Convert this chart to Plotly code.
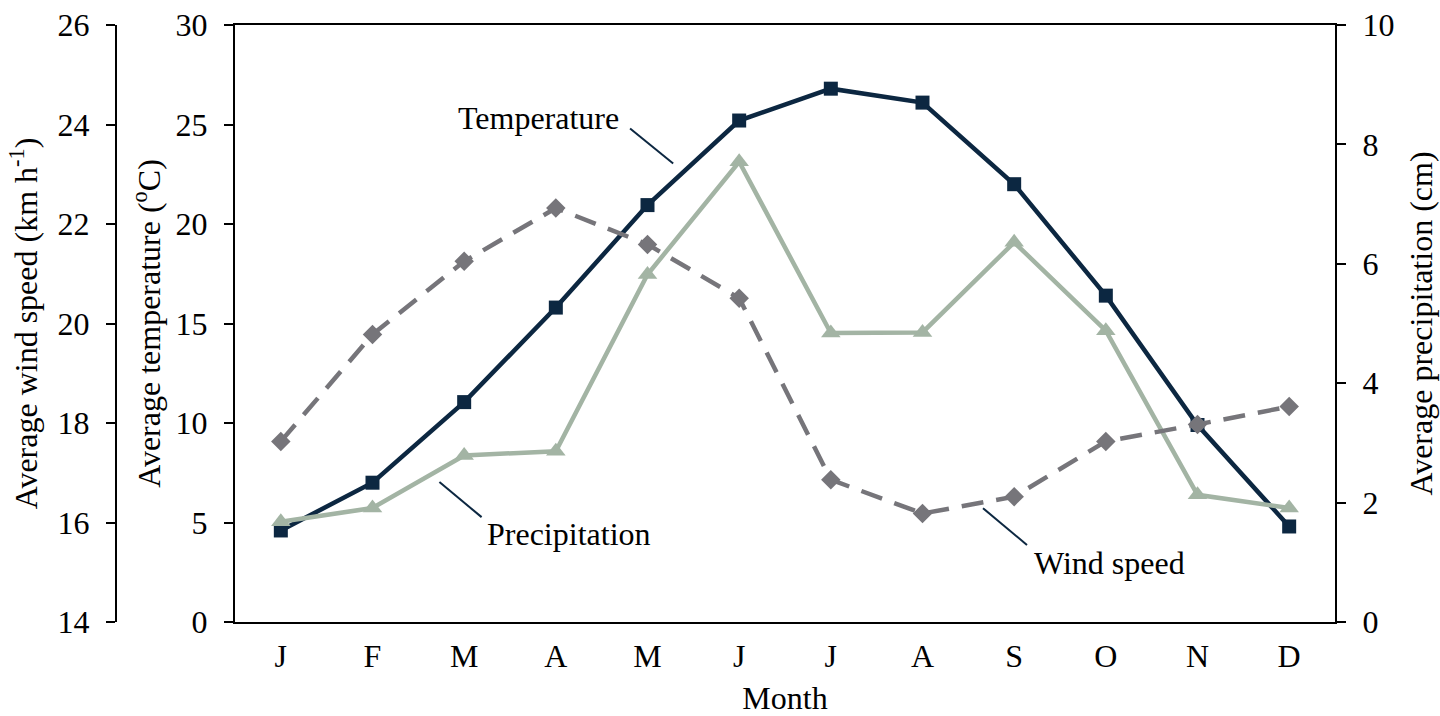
import plotly.graph_objects as go

months = ["J", "F", "M", "A", "M", "J", "J", "A", "S", "O", "N", "D"]
month_idx = list(range(12))
temperature = [4.6, 7.0, 11.05, 15.8, 20.95, 25.2, 26.8, 26.1, 22.0, 16.4, 9.9, 4.8]
precipitation = [1.68, 1.91, 2.79, 2.86, 5.82, 7.71, 4.84, 4.85, 6.36, 4.88, 2.13, 1.91]
wind_speed = [17.63, 19.78, 21.25, 22.32, 21.59, 20.51, 16.86, 16.18, 16.52, 17.63, 17.97, 18.33]

temp_ticks = [0, 5, 10, 15, 20, 25, 30]
precip_ticks = [0, 2, 4, 6, 8, 10]
wind_ticks = [14, 16, 18, 20, 22, 24, 26]

C_TEMP = "#0c2741"
C_PREC = "#a3b4a4"
C_WIND = "#76757a"
FONT = "Times New Roman, Liberation Serif, serif"
FS = 32

fig = go.Figure()

fig.add_trace(go.Scatter(
    x=month_idx, y=wind_speed, yaxis="y3", mode="lines+markers",
    line=dict(color=C_WIND, width=4.5, dash="22px,13px"),
    marker=dict(symbol="diamond", size=15, color=C_WIND),
    showlegend=False, cliponaxis=False))
fig.add_trace(go.Scatter(
    x=month_idx, y=precipitation, yaxis="y2", mode="lines+markers",
    line=dict(color=C_PREC, width=4.5),
    marker=dict(symbol="triangle-up", size=17, color=C_PREC),
    showlegend=False, cliponaxis=False))
fig.add_trace(go.Scatter(
    x=month_idx, y=temperature, yaxis="y", mode="lines+markers",
    line=dict(color=C_TEMP, width=4.5),
    marker=dict(symbol="square", size=14, color=C_TEMP),
    showlegend=False, cliponaxis=False))

x0 = 235 / 1440
x1 = 1335 / 1440
wpos = 116 / 1440

common_y = dict(showgrid=False, zeroline=False, ticklen=9, tickwidth=2,
                tickcolor="black", linecolor="black", linewidth=2, automargin=False,
                tickfont=dict(family=FONT, size=FS, color="black"))

fig.update_layout(
    width=1440, height=716,
    margin=dict(l=0, r=0, t=25, b=94, autoexpand=False),
    paper_bgcolor="white", plot_bgcolor="white",
    font=dict(family=FONT, size=FS, color="black"),
    xaxis=dict(domain=[x0, x1], range=[-0.5, 11.5], tickvals=month_idx, ticktext=months,
               showgrid=False, zeroline=False, showline=True, mirror=True,
               linecolor="black", linewidth=2, ticks="", automargin=False,
               tickfont=dict(family=FONT, size=FS, color="black"),
               ticklabelstandoff=5,
               title=dict(text="Month", font=dict(family=FONT, size=FS), standoff=27)),
    yaxis=dict(range=[0, 30], tickvals=temp_ticks, ticks="outside", showline=True,
               anchor="x", side="left", ticklabelstandoff=10,
               title=dict(text="Average temperature (<sup>o</sup>C)",
                          font=dict(family=FONT, size=FS), standoff=5),
               **common_y),
    yaxis2=dict(range=[0, 10], tickvals=precip_ticks, ticks="outside", showline=True,
                overlaying="y", anchor="x", side="right", ticklabelstandoff=10,
                title=dict(text="Average precipitation (cm)",
                           font=dict(family=FONT, size=FS), standoff=16),
                **common_y),
    yaxis3=dict(range=[14, 26], tickvals=wind_ticks, ticks="outside", showline=True,
                overlaying="y", anchor="free", position=wpos, side="left",
                ticklabelstandoff=10,
                title=dict(text="Average wind speed (km h<sup>-1</sup>)",
                           font=dict(family=FONT, size=FS), standoff=9),
                **common_y),
    yaxis4=dict(range=[0, 30], tickvals=temp_ticks, ticks="inside", showline=False,
                showticklabels=False, overlaying="y", anchor="x", side="left",
                **common_y),
    yaxis5=dict(range=[0, 10], tickvals=precip_ticks, ticks="inside", showline=False,
                showticklabels=False, overlaying="y", anchor="x", side="right",
                **common_y),
    yaxis6=dict(range=[14, 26], tickvals=wind_ticks, ticks="inside", showline=False,
                showticklabels=False, overlaying="y", anchor="free", position=wpos,
                side="left", **common_y),
)

# series labels with leader lines (positions in data coordinates of temperature axis)
labels = [
    ("Temperature", 2.81, 25.35, (3.81, 24.8), (4.28, 23.04)),
    ("Precipitation", 3.14, 4.42, (1.73, 7.03), (2.19, 5.27)),
    ("Wind speed", 9.04, 2.96, (7.66, 5.72), (8.14, 3.87)),
]
for text, tx, ty, p0, p1 in labels:
    fig.add_annotation(x=tx, y=ty, xref="x", yref="y", text=text, showarrow=False,
                       font=dict(family=FONT, size=FS, color="black"))
    fig.add_shape(type="line", xref="x", yref="y", x0=p0[0], y0=p0[1], x1=p1[0], y1=p1[1],
                  line=dict(color=C_TEMP, width=2))

fig.write_html("out.html")
